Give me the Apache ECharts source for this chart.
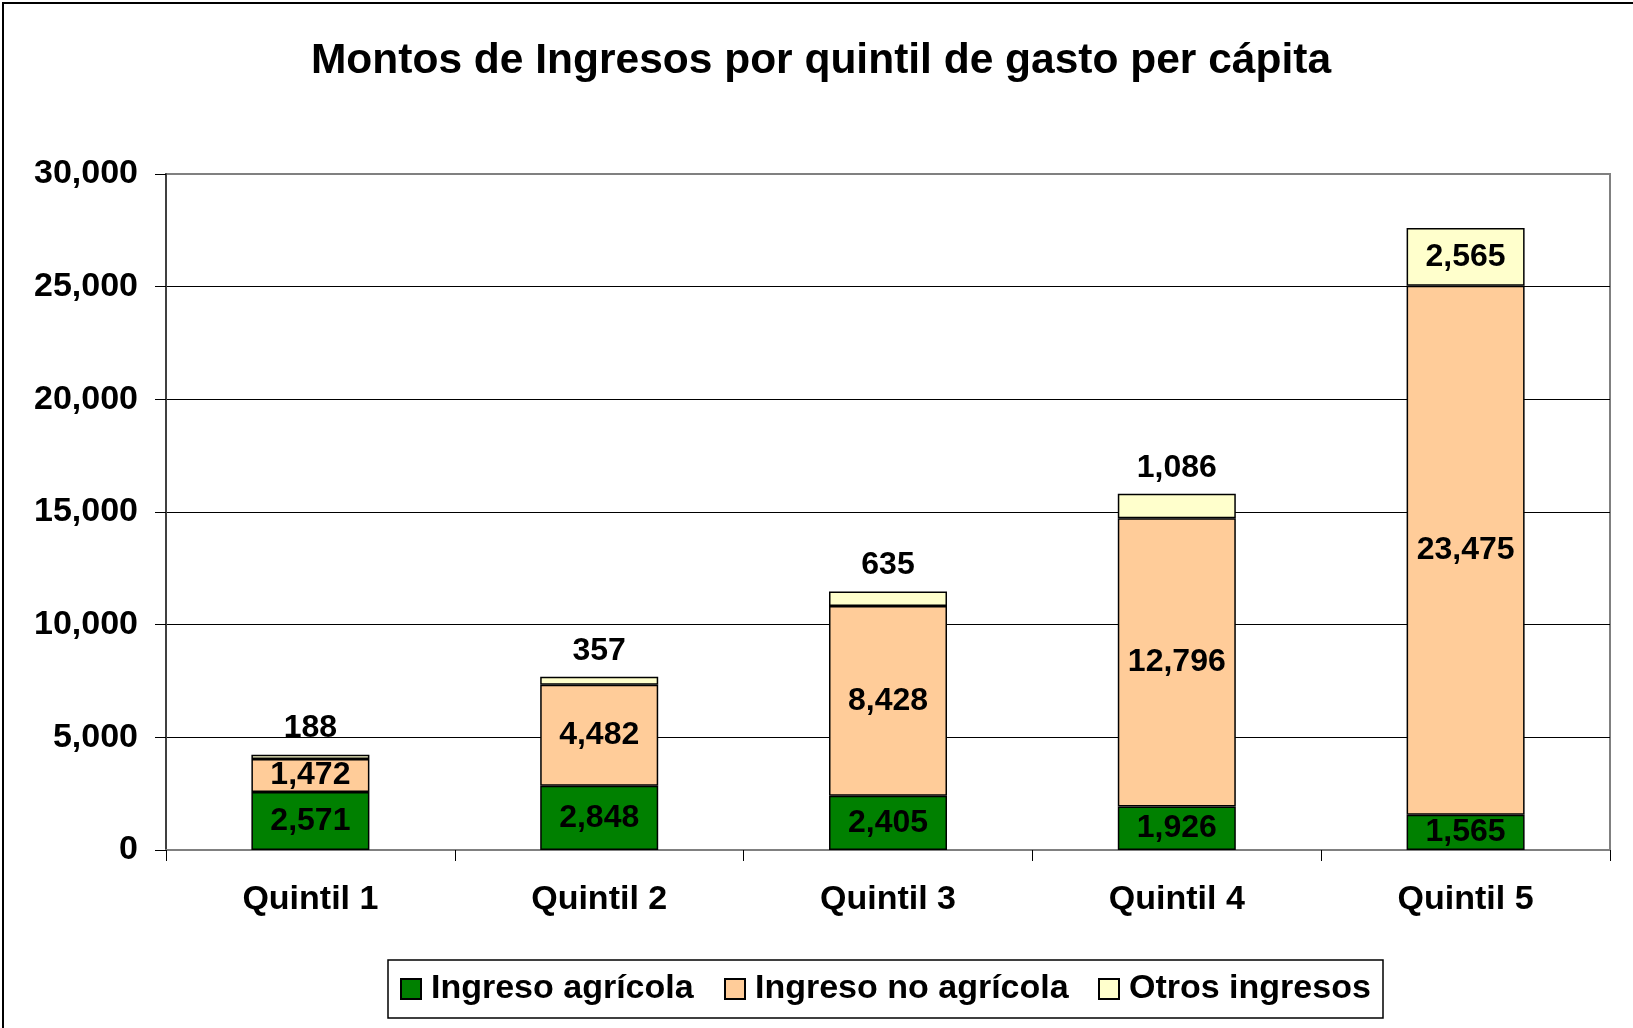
<!DOCTYPE html>
<html>
<head>
<meta charset="utf-8">
<script src="https://cdn.jsdelivr.net/npm/echarts@6/dist/echarts.min.js"></script>
<style>
html,body{margin:0;padding:0;background:#fff;}
#main{width:1633px;height:1028px;}
</style>
</head>
<body>
<div id="main"></div>
<script>
const categories = ['Quintil 1', 'Quintil 2', 'Quintil 3', 'Quintil 4', 'Quintil 5'];
const seriesNames = ['Ingreso agrícola', 'Ingreso no agrícola', 'Otros ingresos'];
const ingresoAgricola = [2571, 2848, 2405, 1926, 1565];
const ingresoNoAgricola = [1472, 4482, 8428, 12796, 23475];
const otrosIngresos = [188, 357, 635, 1086, 2565];
const yTicks = [0, 5000, 10000, 15000, 20000, 25000, 30000];

const FONT = '"Liberation Sans", Arial, sans-serif';
const fmt = v => Number(v).toLocaleString('en-US');

const chart = echarts.init(document.getElementById('main'), null, {renderer: 'canvas'});

const labelBase = {
  show: true,
  fontFamily: FONT,
  fontWeight: 'bold',
  fontSize: 32,
  color: '#000',
  formatter: p => fmt(p.value)
};

const otrosData = otrosIngresos.map((v, i) => ({
  value: v,
  label: i === otrosIngresos.length - 1 ? {position: 'inside'} : {position: 'top', distance: 10}
}));

const option = {
  backgroundColor: '#fff',
  animation: false,
  title: {
    text: 'Montos de Ingresos por quintil de gasto per cápita',
    left: 816,
    top: 35,
    textAlign: 'center',
    textStyle: {fontFamily: FONT, fontWeight: 'bold', fontSize: 42.5, color: '#000'}
  },
  graphic: [{
    type: 'rect',
    shape: {x: 3, y: 3, width: 1700, height: 1100},
    style: {fill: 'none', stroke: '#000', lineWidth: 2},
    silent: true,
    z: 100
  }],
  legend: {
    data: seriesNames,
    left: 388,
    top: 960,
    orient: 'horizontal',
    padding: [12, 0, 12, 12],
    itemGap: 20,
    itemWidth: 20,
    itemHeight: 20,
    borderColor: '#000',
    borderWidth: 1.5,
    icon: 'rect',
    itemStyle: {borderColor: '#000', borderWidth: 2},
    formatter: name => {
      const key = name === seriesNames[0] ? 'a' : (name === seriesNames[1] ? 'b' : 'c');
      return '{' + key + '|' + name + '}';
    },
    textStyle: {
      fontFamily: FONT, fontWeight: 'bold', fontSize: 34, color: '#000',
      rich: {
        a: {fontFamily: FONT, fontWeight: 'bold', fontSize: 34, width: 273, lineHeight: 36, padding: [0, 0, 0, 5]},
        b: {fontFamily: FONT, fontWeight: 'bold', fontSize: 34, width: 323, lineHeight: 36, padding: [0, 0, 0, 5]},
        c: {fontFamily: FONT, fontWeight: 'bold', fontSize: 34, width: 243, lineHeight: 36, padding: [0, 11, 0, 5]}
      }
    }
  },
  grid: {
    left: 166,
    right: 23,
    top: 174,
    bottom: 178,
    show: true,
    borderColor: '#808080',
    borderWidth: 2,
    containLabel: false
  },
  xAxis: {
    type: 'category',
    data: categories,
    boundaryGap: true,
    axisLine: {show: true, lineStyle: {color: '#808080', width: 2}},
    axisTick: {show: true, alignWithLabel: false, length: 11, lineStyle: {color: '#000', width: 1}},
    axisLabel: {fontFamily: FONT, fontWeight: 'bold', fontSize: 34, color: '#000', margin: 33},
    splitLine: {show: false}
  },
  yAxis: {
    type: 'value',
    min: yTicks[0],
    max: yTicks[yTicks.length - 1],
    interval: yTicks[1] - yTicks[0],
    axisLine: {show: true, lineStyle: {color: '#404040', width: 2}},
    axisTick: {show: true, inside: false, length: 11, lineStyle: {color: '#000', width: 1}},
    axisLabel: {fontFamily: FONT, fontWeight: 'bold', fontSize: 34, color: '#000', margin: 28, formatter: v => fmt(v)},
    splitLine: {show: true, lineStyle: {color: ['#000', '#000', '#000', '#000', '#000', '#000', '#808080'], width: 1}}
  },
  series: [
    {
      name: seriesNames[0],
      type: 'bar',
      stack: 'total',
      barWidth: 118,
      data: ingresoAgricola,
      itemStyle: {color: '#008000', borderColor: '#000', borderWidth: 1.5},
      label: Object.assign({}, labelBase, {position: 'inside'})
    },
    {
      name: seriesNames[1],
      type: 'bar',
      stack: 'total',
      barWidth: 118,
      data: ingresoNoAgricola,
      itemStyle: {color: '#FFCC99', borderColor: '#000', borderWidth: 1.5},
      label: Object.assign({}, labelBase, {position: 'inside'})
    },
    {
      name: seriesNames[2],
      type: 'bar',
      stack: 'total',
      barWidth: 118,
      data: otrosData,
      itemStyle: {color: '#FFFFCC', borderColor: '#000', borderWidth: 1.5},
      label: Object.assign({}, labelBase)
    }
  ]
};

chart.setOption(option);
</script>
</body>
</html>
